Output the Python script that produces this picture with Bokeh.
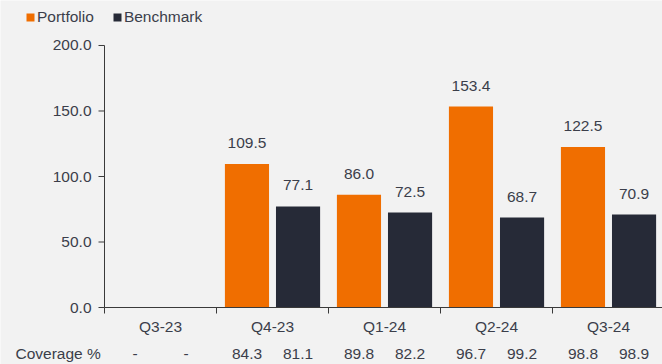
import math
from bokeh.plotting import figure
from bokeh.models import Range1d, Legend, LegendItem, ColumnDataSource
from bokeh.core.properties import value
from bokeh.embed import file_html
from bokeh.resources import INLINE

quarters = ["Q3-23", "Q4-23", "Q1-24", "Q2-24", "Q3-24"]
portfolio = [float("nan"), 109.5, 86.0, 153.4, 122.5]
benchmark = [float("nan"), 77.1, 72.5, 68.7, 70.9]
coverage_portfolio = ["-", "84.3", "89.8", "96.7", "98.8"]
coverage_benchmark = ["-", "81.1", "82.2", "99.2", "98.9"]
y_ticks = [0, 50, 100, 150, 200]

FONT = value("Liberation Sans")
TXT = "#3b3e4a"
ORANGE = "#f06e00"
DARK = "#262a37"
BG = "#f2f2f2"
AX = "#3a3a3a"
FS = "15.5px"

OFF = 0.228
BW = 0.394
n = len(quarters)

centers = [i + 0.5 for i in range(n)]
xp = [c - OFF for c in centers]
xb = [c + OFF for c in centers]

def lab(v):
    return "" if math.isnan(v) else f"{v:.1f}"

src_p = ColumnDataSource(dict(x=xp, top=portfolio, label=[lab(v) for v in portfolio], cov=coverage_portfolio))
src_b = ColumnDataSource(dict(x=xb, top=benchmark, label=[lab(v) for v in benchmark], cov=coverage_benchmark))

# frame covers whole canvas; ranges chosen so that the plot area sits where the reference has it
p = figure(width=662, height=364, output_backend="svg", toolbar_location=None,
           x_range=Range1d(-0.9286, 4.982), y_range=Range1d(-43.51, 234.35),
           x_axis_type=None, y_axis_type=None,
           min_border=0, background_fill_color=BG, border_fill_color=BG, outline_line_color=None)
p.xgrid.visible = False
p.ygrid.visible = False

rp = p.vbar(x="x", top="top", width=BW, bottom=0, source=src_p, fill_color=ORANGE, line_color=None)
rb = p.vbar(x="x", top="top", width=BW, bottom=0, source=src_b, fill_color=DARK, line_color=None)

# value labels above bars and coverage row
for src in (src_p, src_b):
    p.text(x="x", y="top", text="label", source=src, text_align="center", text_baseline="bottom",
           y_offset=-16, text_font=FONT, text_font_size=FS, text_color=TXT)
    p.text(x="x", y=0, text="cov", source=src, text_align="center", text_baseline="middle",
           y_offset=46, text_font=FONT, text_font_size=FS, text_color=TXT)

p.text(x=[0], y=[0], text=["Coverage %"], text_align="left", text_baseline="middle",
       x_offset=-89, y_offset=46, text_font=FONT, text_font_size=FS, text_color=TXT)

# axes
p.segment(x0=[0, 0], y0=[0, 0], x1=[0, n], y1=[y_ticks[-1], 0], line_color=AX, line_width=1)
p.ray(x=[0] * len(y_ticks), y=y_ticks, length=6, length_units="screen", angle=math.pi,
      line_color=AX, line_width=1)
p.text(x=[0] * len(y_ticks), y=y_ticks, text=[f"{t:.1f}" for t in y_ticks], text_align="right",
       text_baseline="middle", x_offset=-13, text_font=FONT, text_font_size=FS, text_color=TXT)
bounds = list(range(n + 1))
p.ray(x=bounds, y=[0] * len(bounds), length=6, length_units="screen", angle=-math.pi / 2,
      line_color=AX, line_width=1)
p.text(x=centers, y=[0] * n, text=quarters, text_align="center", text_baseline="middle",
       y_offset=19, text_font=FONT, text_font_size=FS, text_color=TXT)

legend = Legend(items=[LegendItem(label="Portfolio", renderers=[rp]),
                       LegendItem(label="Benchmark", renderers=[rb])],
                orientation="horizontal", location=(25, 338),
                glyph_width=10, glyph_height=10, label_standoff=2, spacing=18,
                padding=0, margin=0, border_line_color=None, background_fill_alpha=0,
                label_text_font="Liberation Sans", label_text_font_size=FS, label_text_color=TXT,
                label_height=16)
p.add_layout(legend, "center")

open("out.html", "w").write(file_html(p, INLINE))
